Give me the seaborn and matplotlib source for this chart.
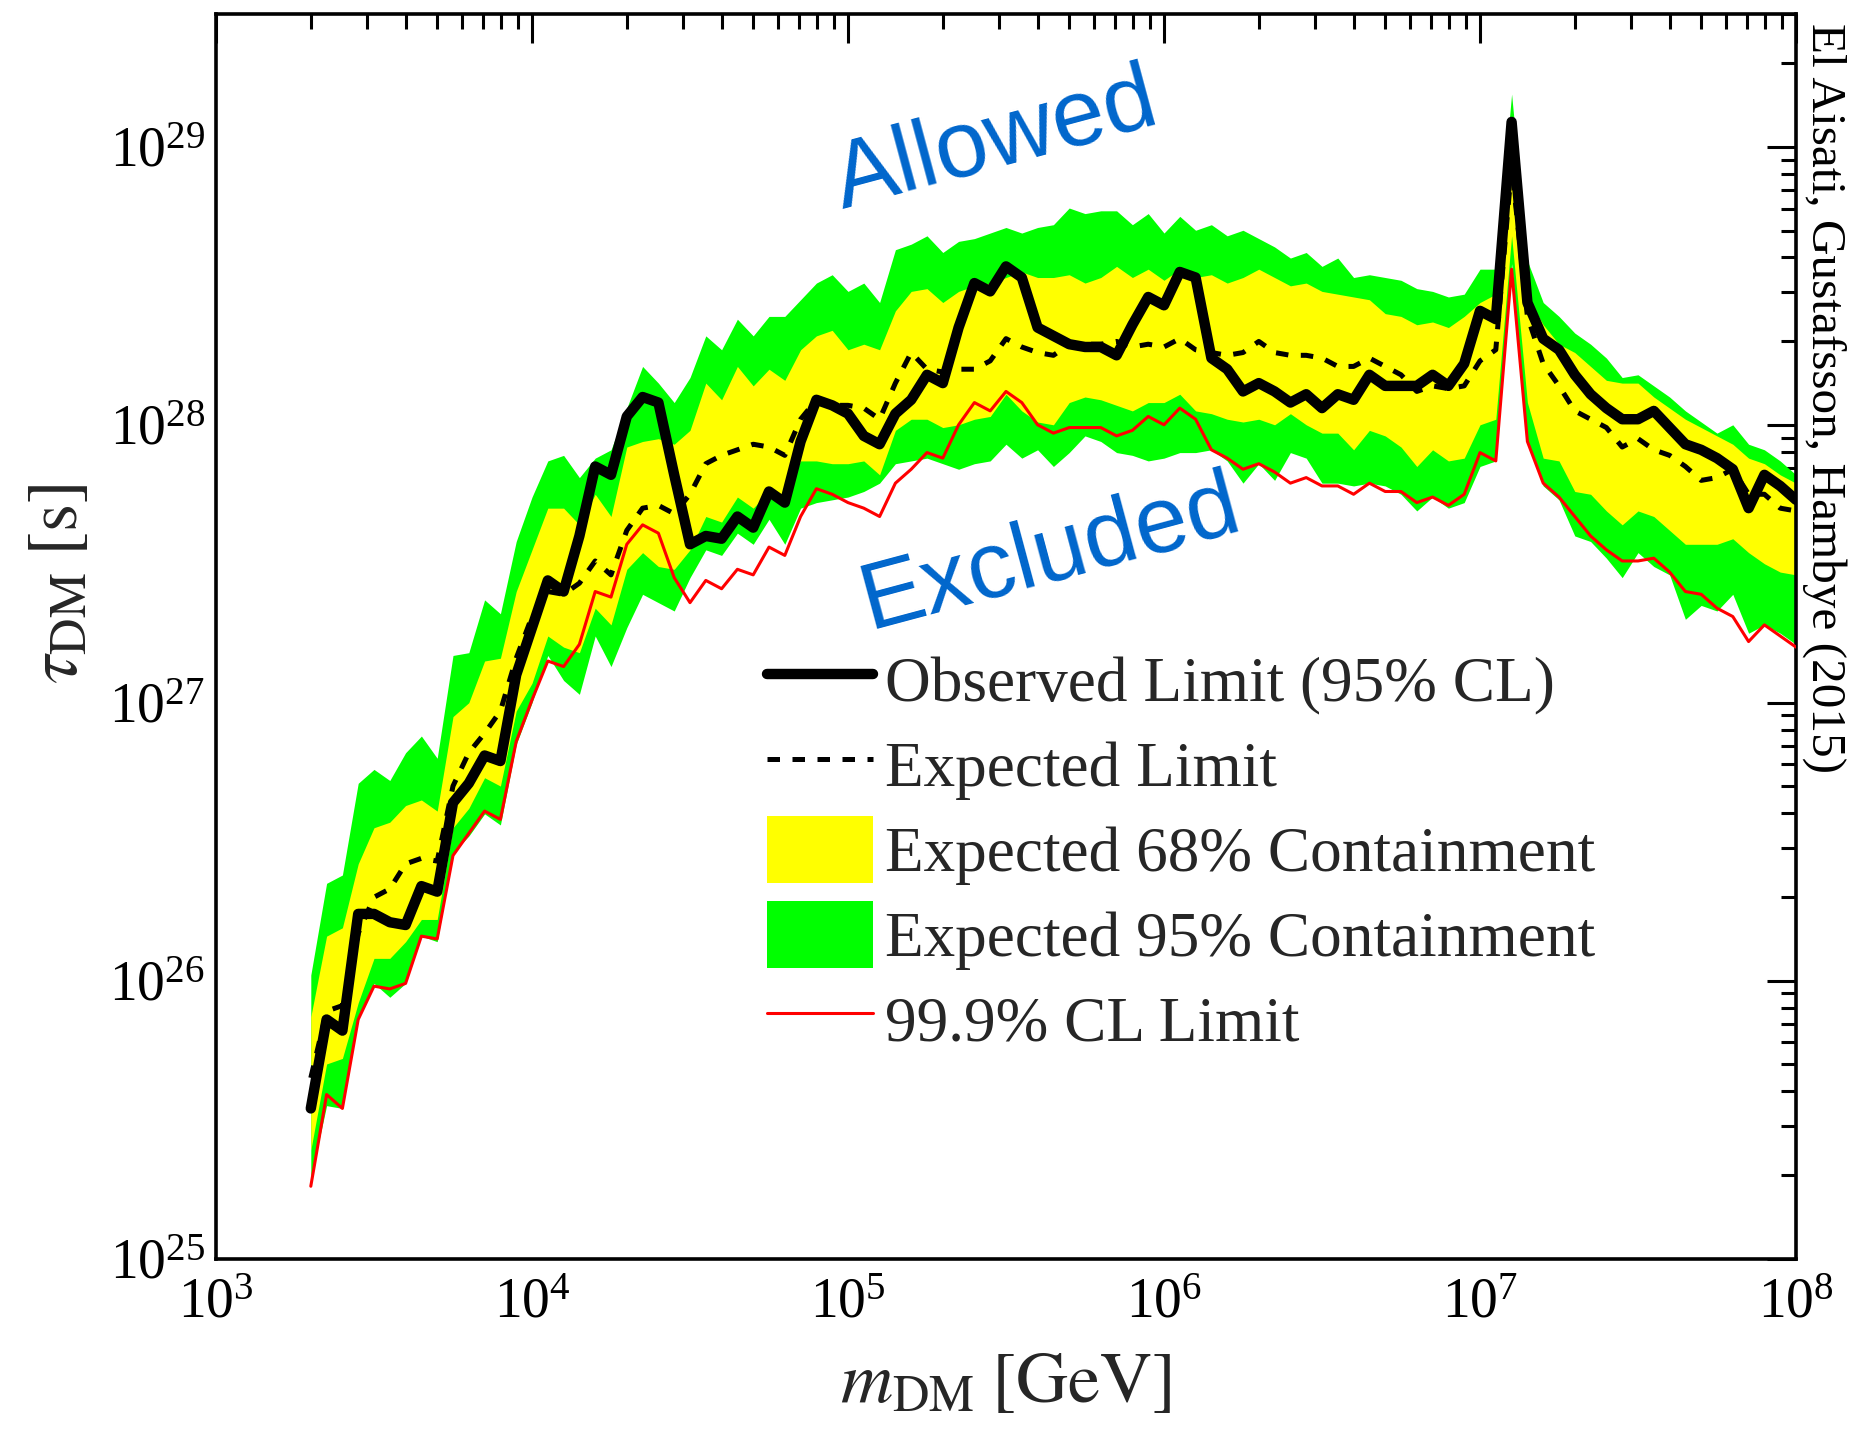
import numpy as np
import pandas as pd
import matplotlib
matplotlib.use("Agg")
import matplotlib.pyplot as plt
import seaborn as sns
from matplotlib.lines import Line2D
from matplotlib.patches import Patch
from matplotlib.ticker import LogLocator, NullFormatter

# ---------------- data (log10 values) ----------------
log_mass = [3.30, 3.35, 3.40, 3.45, 3.50, 3.55, 3.60, 3.65, 3.70, 3.75,
            3.80, 3.85, 3.90, 3.95, 4.00, 4.05, 4.10, 4.15, 4.20, 4.25,
            4.30, 4.35, 4.40, 4.45, 4.50, 4.55, 4.60, 4.65, 4.70, 4.75,
            4.80, 4.85, 4.90, 4.95, 5.00, 5.05, 5.10, 5.15, 5.20, 5.25,
            5.30, 5.35, 5.40, 5.45, 5.50, 5.55, 5.60, 5.65, 5.70, 5.75,
            5.80, 5.85, 5.90, 5.95, 6.00, 6.05, 6.10, 6.15, 6.20, 6.25,
            6.30, 6.35, 6.40, 6.45, 6.50, 6.55, 6.60, 6.65, 6.70, 6.75,
            6.80, 6.85, 6.90, 6.95, 7.00, 7.05, 7.10, 7.15, 7.20, 7.25,
            7.30, 7.35, 7.40, 7.45, 7.50, 7.55, 7.60, 7.65, 7.70, 7.75,
            7.80, 7.85, 7.90, 7.95, 8.00]

observed = [25.54, 25.86, 25.82, 26.24, 26.24, 26.21, 26.20, 26.34, 26.32, 26.64,
            26.71, 26.81, 26.79, 27.10, 27.27, 27.44, 27.40, 27.60, 27.85, 27.82,
            28.03, 28.10, 28.08, 27.82, 27.57, 27.60, 27.59, 27.67, 27.63, 27.76,
            27.72, 27.94, 28.09, 28.07, 28.04, 27.96, 27.93, 28.04, 28.09, 28.18,
            28.15, 28.35, 28.51, 28.48, 28.57, 28.53, 28.35, 28.32, 28.29, 28.28,
            28.28, 28.25, 28.36, 28.46, 28.43, 28.55, 28.53, 28.24, 28.20, 28.12,
            28.15, 28.12, 28.08, 28.11, 28.06, 28.11, 28.09, 28.18, 28.14, 28.14,
            28.14, 28.18, 28.14, 28.22, 28.41, 28.38, 29.09, 28.44, 28.31, 28.27,
            28.18, 28.11, 28.06, 28.02, 28.02, 28.05, 27.99, 27.93, 27.91, 27.88,
            27.84, 27.70, 27.82, 27.78, 27.73]

expected = [25.65, 25.89, 25.91, 26.17, 26.30, 26.33, 26.42, 26.44, 26.43, 26.70,
            26.82, 26.89, 26.97, 27.16, 27.31, 27.40, 27.39, 27.43, 27.51, 27.46,
            27.62, 27.70, 27.71, 27.68, 27.75, 27.86, 27.89, 27.91, 27.93, 27.92,
            27.89, 28.02, 28.09, 28.07, 28.07, 28.06, 28.02, 28.15, 28.26, 28.20,
            28.19, 28.20, 28.20, 28.23, 28.31, 28.28, 28.26, 28.25, 28.29, 28.29,
            28.29, 28.30, 28.28, 28.29, 28.28, 28.31, 28.27, 28.26, 28.25, 28.26,
            28.30, 28.26, 28.25, 28.25, 28.24, 28.21, 28.21, 28.24, 28.21, 28.18,
            28.12, 28.14, 28.13, 28.14, 28.23, 28.27, 28.93, 28.39, 28.22, 28.14,
            28.05, 28.02, 27.99, 27.92, 27.95, 27.91, 27.89, 27.85, 27.80, 27.81,
            27.84, 27.75, 27.75, 27.70, 27.69]

limit_999 = [25.26, 25.59, 25.54, 25.86, 25.98, 25.97, 25.99, 26.16, 26.15, 26.45,
             26.53, 26.61, 26.58, 26.86, 27.01, 27.15, 27.13, 27.21, 27.40, 27.38,
             27.57, 27.64, 27.61, 27.45, 27.36, 27.44, 27.41, 27.48, 27.46, 27.56,
             27.53, 27.67, 27.77, 27.75, 27.72, 27.70, 27.67, 27.79, 27.84, 27.90,
             27.88, 28.00, 28.08, 28.05, 28.12, 28.08, 28.00, 27.97, 27.99, 27.99,
             27.99, 27.96, 27.98, 28.03, 28.00, 28.06, 28.02, 27.91, 27.88, 27.84,
             27.86, 27.83, 27.79, 27.81, 27.78, 27.78, 27.75, 27.79, 27.76, 27.76,
             27.72, 27.74, 27.71, 27.75, 27.90, 27.87, 28.56, 27.94, 27.79, 27.74,
             27.67, 27.60, 27.55, 27.51, 27.51, 27.52, 27.47, 27.40, 27.39, 27.34,
             27.31, 27.22, 27.28, 27.24, 27.20]

band95_hi = [26.02, 26.35, 26.38, 26.71, 26.76, 26.72, 26.82, 26.88, 26.80, 27.17,
             27.18, 27.37, 27.32, 27.58, 27.74, 27.87, 27.89, 27.81, 27.88, 27.91,
             28.06, 28.21, 28.15, 28.08, 28.17, 28.32, 28.27, 28.38, 28.32, 28.39,
             28.39, 28.45, 28.51, 28.54, 28.48, 28.51, 28.44, 28.63, 28.65, 28.68,
             28.62, 28.66, 28.67, 28.69, 28.71, 28.69, 28.71, 28.72, 28.78, 28.76,
             28.77, 28.77, 28.72, 28.76, 28.69, 28.75, 28.70, 28.72, 28.68, 28.70,
             28.67, 28.64, 28.60, 28.62, 28.57, 28.60, 28.53, 28.54, 28.53, 28.52,
             28.49, 28.48, 28.46, 28.47, 28.56, 28.56, 29.19, 28.59, 28.44, 28.39,
             28.33, 28.29, 28.24, 28.17, 28.18, 28.14, 28.10, 28.05, 28.01, 27.97,
             28.00, 27.93, 27.91, 27.87, 27.82]

band68_hi = [25.87, 26.16, 26.19, 26.42, 26.55, 26.57, 26.63, 26.65, 26.61, 26.95,
             27.00, 27.15, 27.16, 27.40, 27.55, 27.70, 27.70, 27.64, 27.75, 27.67,
             27.92, 27.94, 27.95, 27.93, 27.98, 28.15, 28.09, 28.21, 28.14, 28.20,
             28.16, 28.27, 28.32, 28.34, 28.27, 28.29, 28.27, 28.41, 28.48, 28.49,
             28.44, 28.48, 28.50, 28.51, 28.53, 28.55, 28.53, 28.53, 28.54, 28.51,
             28.53, 28.57, 28.53, 28.56, 28.52, 28.56, 28.53, 28.54, 28.51, 28.53,
             28.56, 28.53, 28.50, 28.51, 28.48, 28.47, 28.46, 28.45, 28.40, 28.39,
             28.36, 28.37, 28.35, 28.39, 28.44, 28.47, 29.05, 28.46, 28.36, 28.29,
             28.26, 28.21, 28.16, 28.15, 28.15, 28.10, 28.06, 28.02, 27.99, 27.96,
             27.93, 27.88, 27.86, 27.82, 27.79]

band68_lo = [25.39, 25.70, 25.72, 25.92, 26.08, 26.08, 26.14, 26.22, 26.22, 26.55,
             26.62, 26.73, 26.70, 26.97, 27.07, 27.24, 27.20, 27.18, 27.34, 27.28,
             27.48, 27.54, 27.49, 27.48, 27.55, 27.67, 27.65, 27.74, 27.70, 27.76,
             27.75, 27.87, 27.87, 27.86, 27.86, 27.87, 27.82, 27.98, 28.02, 28.02,
             27.99, 28.00, 28.02, 28.03, 28.11, 28.05, 28.01, 28.00, 28.08, 28.10,
             28.09, 28.07, 28.05, 28.08, 28.08, 28.11, 28.05, 28.04, 28.02, 28.01,
             28.02, 28.00, 28.04, 28.00, 27.97, 27.97, 27.91, 27.98, 27.96, 27.92,
             27.85, 27.91, 27.87, 27.88, 28.00, 28.02, 28.68, 28.08, 27.88, 27.87,
             27.76, 27.75, 27.69, 27.64, 27.69, 27.67, 27.62, 27.57, 27.57, 27.57,
             27.59, 27.54, 27.50, 27.47, 27.46]

band95_lo = [25.29, 25.55, 25.54, 25.87, 25.99, 25.94, 25.99, 26.16, 26.14, 26.46,
             26.52, 26.60, 26.56, 26.85, 27.00, 27.17, 27.08, 27.03, 27.24, 27.13,
             27.27, 27.39, 27.36, 27.33, 27.45, 27.55, 27.53, 27.61, 27.57, 27.66,
             27.57, 27.70, 27.72, 27.73, 27.74, 27.76, 27.79, 27.86, 27.87, 27.88,
             27.86, 27.84, 27.86, 27.87, 27.93, 27.88, 27.91, 27.85, 27.90, 27.96,
             27.94, 27.90, 27.89, 27.87, 27.88, 27.90, 27.90, 27.91, 27.87, 27.79,
             27.86, 27.80, 27.90, 27.88, 27.79, 27.79, 27.78, 27.79, 27.78, 27.75,
             27.69, 27.74, 27.70, 27.72, 27.85, 27.87, 28.58, 27.94, 27.78, 27.73,
             27.60, 27.58, 27.52, 27.45, 27.54, 27.49, 27.46, 27.30, 27.35, 27.33,
             27.39, 27.25, 27.28, 27.25, 27.21]

legend_labels = ["Observed Limit (95% CL)", "Expected Limit",
                 "Expected 68% Containment", "Expected 95% Containment",
                 "99.9% CL Limit"]

# ---------------- build table ----------------
df = pd.DataFrame({
    "mass": np.power(10.0, log_mass),
    "observed": np.power(10.0, observed),
    "expected": np.power(10.0, expected),
    "cl999": np.power(10.0, limit_999),
    "hi95": np.power(10.0, band95_hi),
    "lo95": np.power(10.0, band95_lo),
    "hi68": np.power(10.0, band68_hi),
    "lo68": np.power(10.0, band68_lo),
})

# ---------------- style ----------------
sns.set_theme(style="white")
plt.rcParams["font.family"] = ["Liberation Serif", "DejaVu Serif"]
plt.rcParams["mathtext.fontset"] = "stix"
plt.rcParams["axes.linewidth"] = 2.4

fig = plt.figure(figsize=(18.51, 14.30), dpi=100)
ax = fig.add_axes([216 / 1851, 1 - 1258.5 / 1430, 1580 / 1851, (1258.5 - 14.3) / 1430])

GREEN = "#00ff00"
YELLOW = "#ffff00"

ax.fill_between(df["mass"], df["lo95"], df["hi95"], color=GREEN, lw=0, zorder=1)
ax.fill_between(df["mass"], df["lo68"], df["hi68"], color=YELLOW, lw=0, zorder=2)

sns.lineplot(data=df, x="mass", y="cl999", ax=ax, color="#ff0000", lw=2.2,
             errorbar=None, legend=False, zorder=3)
sns.lineplot(data=df, x="mass", y="expected", ax=ax, color="black", lw=3.6,
             errorbar=None, legend=False, zorder=4)
ax.lines[-1].set_dashes([2.5, 2.5])
sns.lineplot(data=df, x="mass", y="observed", ax=ax, color="black", lw=7.5,
             errorbar=None, legend=False, zorder=5)

ax.set_xscale("log")
ax.set_yscale("log")
ax.set_xlim(1e3, 1e8)
ax.set_ylim(1e25, 3e29)

ax.xaxis.set_major_locator(LogLocator(base=10, numticks=20))
ax.xaxis.set_minor_locator(LogLocator(base=10, subs=np.arange(2, 10), numticks=50))
ax.yaxis.set_major_locator(LogLocator(base=10, numticks=20))
ax.yaxis.set_minor_locator(LogLocator(base=10, subs=np.arange(2, 10), numticks=50))
ax.xaxis.set_minor_formatter(NullFormatter())
ax.yaxis.set_minor_formatter(NullFormatter())

ax.tick_params(which="both", direction="in", top=True, right=True,
               width=2.2, colors="black")
ax.tick_params(which="major", length=21, labelsize=40)
ax.tick_params(which="minor", length=10.5)
ax.tick_params(axis="x", which="major", pad=14)
ax.tick_params(axis="y", which="major", pad=8)
for sp in ax.spines.values():
    sp.set_color("black")
    sp.set_linewidth(2.6)

ax.set_xlabel(r"$m_{\rm DM}\;[{\rm GeV}]$", fontsize=52)
ax.set_ylabel(r"$\tau_{\rm DM}\;[{\rm s}]$", fontsize=52)
ax.xaxis.label.set_va("center")
ax.yaxis.label.set_va("center")
ax.yaxis.label.set_ha("center")
ax.xaxis.set_label_coords(0.5, -0.101)
ax.yaxis.set_label_coords(-0.099, 0.542)

# annotations
ax.text(0.494, 0.897, "Allowed", transform=ax.transAxes, fontsize=68,
        family=["Liberation Sans", "DejaVu Sans"], color="#0066cc",
        rotation=15, ha="center", va="center")
ax.text(0.528, 0.565, "Excluded", transform=ax.transAxes, fontsize=68,
        family=["Liberation Sans", "DejaVu Sans"], color="#0066cc",
        rotation=15, ha="center", va="center")
fig.text(1824 / 1851, 1 - 398 / 1430, "El Aisati, Gustafsson, Hambye (2015)",
         fontsize=35.5, rotation=-90, ha="center", va="center", color="black")

# legend
handles = [
    Line2D([], [], color="black", lw=7.5),
    Line2D([], [], color="black", lw=3.6, dashes=[2.5, 2.5]),
    Patch(facecolor=YELLOW, edgecolor="none"),
    Patch(facecolor=GREEN, edgecolor="none"),
    Line2D([], [], color="#ff0000", lw=2.2),
]
leg = fig.legend(handles, legend_labels, loc="upper left",
                 bbox_to_anchor=(767 / 1851, 1 - 647 / 1430),
                 frameon=False, fontsize=45.5, handlelength=1.67, handleheight=1.245,
                 handletextpad=0.19, labelspacing=0.255, borderpad=0,
                 borderaxespad=0)

fig.savefig("out.png", dpi=100, facecolor="white")
